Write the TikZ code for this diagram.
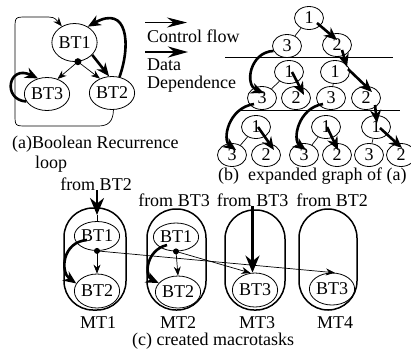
\documentclass[tikz,border=0pt]{standalone}
\usepackage{fontspec}
\setmainfont{Liberation Serif}
\usetikzlibrary{arrows.meta,shapes.geometric}
\begin{document}
\begin{tikzpicture}[x=1pt,y=-1pt,
  every node/.style={font=\fontsize{18}{20}\selectfont, inner sep=0pt},
  lbl/.style={anchor=base west},
  clbl/.style={anchor=base},
  bta/.style={draw, ellipse, line width=0.8pt, minimum width=42pt, minimum height=34pt},
  tnode/.style={draw, ellipse, line width=0.8pt, minimum width=29pt, minimum height=23pt},
  ctrl/.style={line width=0.7pt, -{Stealth[length=9pt,width=7pt]}},
  data/.style={line width=2.6pt, -{Stealth[length=13pt,width=11pt]}},
  datab/.style={line width=2.6pt, -{Stealth[length=17pt,width=14pt]}},
  thinln/.style={line width=0.7pt},
  capsule/.style={draw, line width=1.5pt, rounded corners=29pt}]
\useasboundingbox (0,0) rectangle (411,349);

% ---------- (a) Boolean recurrence loop ----------
\node[bta, minimum height=38pt] (a1) at (74.5,42.5) {BT1};
\node[bta, minimum height=33pt] (a3) at (47,94) {BT3};
\node[bta, minimum height=33pt] (a2) at (112,93) {BT2};
\coordinate (ad) at (a1.-80);
\fill (ad) circle (3.5);
\draw[ctrl] (ad) -- (a3.55);
\draw[ctrl] (ad) -- (a2.130);
\draw[data] (a1.-35) -- (a2.100);
\draw[data] (a2.65) .. controls (131,45) and (128,4) .. (a1.50);
\draw[data] (a3.200) .. controls (2,100) and (8,64) .. (a3.120);
% loop-back control edge around the three blocks
\draw[ctrl] (a2.-85) .. controls (113,122) and (108,126) .. (98,126)
  -- (27,126) .. controls (15,126) .. (15,114) -- (15,29)
  .. controls (15,17) .. (27,17) -- (42,17) .. controls (54,17) .. (a1.128);
\node[lbl] (capa) at (12,148) {(a)Boolean Recurrence};
\node[lbl] (capa2) at (35,168) {loop};

% ---------- legend ----------
\coordinate (lg1s) at (145,22.5);
\coordinate (lg1e) at (187,22.5);
\draw[line width=0.7pt, -{Stealth[length=20pt,width=10pt]}] (lg1s) -- (lg1e);
\node[lbl] (lgc) at (147,42) {Control flow};
\coordinate (lg2s) at (145,52);
\coordinate (lg2e) at (188,52);
\draw[line width=2.6pt, -{Stealth[length=20pt,width=11pt]}] (lg2s) -- (lg2e);
\node[lbl] (lgd) at (147,70) {Data};
\node[lbl] (lgd2) at (147,88) {Dependence};

% ---------- (b) expanded graph ----------
\node[tnode] (b0) at (309,18) {1};
\node[tnode] (b1a) at (287,46) {3};
\node[tnode] (b1b) at (337,45) {2};
\node[tnode] (b2a) at (289,72) {1};
\node[tnode] (b2b) at (335,72) {1};
\node[tnode] (b3a) at (262,98) {3};
\node[tnode] (b3b) at (296,98) {2};
\node[tnode] (b3c) at (331,98) {3};
\node[tnode] (b3d) at (366,98) {2};
\node[tnode] (b4a) at (256,127) {1};
\node[tnode] (b4b) at (326,127) {1};
\node[tnode] (b4c) at (376,127) {1};
\node[tnode] (b5a) at (232,155) {3};
\node[tnode] (b5b) at (266,155) {2};
\node[tnode] (b5c) at (304,155) {3};
\node[tnode] (b5d) at (337,155) {2};
\node[tnode] (b5e) at (369,155) {3};
\node[tnode] (b5f) at (401,155) {2};
% iteration separators
\coordinate (h1s) at (225,57); \coordinate (h1e) at (393,57);
\coordinate (h2s) at (240,110); \coordinate (h2e) at (400,110);
\draw[thinln] (h1s) -- (h1e);
\draw[thinln] (h2s) -- (h2e);
% control edges inside an iteration
\draw[thinln] (b0) -- (b1a);
\draw[thinln] (b2a) -- (b3a);
\draw[thinln] (b2b) -- (b3c);
\draw[thinln] (b4a) -- (b5a);
\draw[thinln] (b4b) -- (b5c);
\draw[thinln] (b4c) -- (b5e);
% data dependences
\draw[data] ([shift={(8,5)}]b0.center) -- ([shift={(0,-5)}]b1b.center);
\draw[data] ([shift={(5,5)}]b1b.center) -- ([shift={(12,-5)}]b2b.center);
\draw[data] ([shift={(13,-3)}]b2b.center) -- ([shift={(6,-6)}]b3d.center);
\draw[data] ([shift={(3,0)}]b2a.center) -- ([shift={(8,-3)}]b3b.center);
\draw[data] ([shift={(9,7)}]b3d.center) -- ([shift={(1,-4)}]b4c.center);
\draw[data] ([shift={(4,1)}]b4c.center) -- ([shift={(1,-7)}]b5f.center);
\draw[data] ([shift={(2,0)}]b4a.center) -- ([shift={(8,-5)}]b5b.center);
\draw[data] ([shift={(1,0)}]b4b.center) -- ([shift={(1,-5)}]b5d.center);
\draw[data] (b1a.200) .. controls (250,52) and (244,85) .. ([shift={(2,-5)}]b3a.center);
\draw[data] ([shift={(-8,6)}]b3a.center) .. controls (228,108) and (222,140) .. ([shift={(4,-5)}]b5a.center);
\draw[data] ([shift={(-8,6)}]b3c.center) .. controls (298,108) and (292,140) .. ([shift={(2,-5)}]b5c.center);
\node[lbl] (capb) at (218,180) {(b)\ \ expanded graph of (a)};

% ---------- (c) created macrotasks ----------
\node[capsule, minimum width=62pt, minimum height=102pt] (mt1) at (95,259) {};
\node[capsule, minimum width=59pt, minimum height=101pt] (mt2) at (176.5,259.5) {};
\node[capsule, minimum width=60pt, minimum height=100pt] (mt3) at (255,260) {};
\node[capsule, minimum width=58pt, minimum height=101pt] (mt4) at (328,259.5) {};

\node[bta, minimum height=29pt] (m1a) at (97,236) {BT1};
\node[bta, minimum height=34pt] (m1b) at (97,291) {BT2};
\node[bta, minimum height=28pt] (m2a) at (176,237) {BT1};
\node[bta, minimum height=32pt] (m2b) at (178,292) {BT2};
\node[bta, minimum height=34pt] (m3a) at (255,290) {BT3};
\node[bta, minimum height=32pt] (m4a) at (332,289) {BT3};

\node[clbl] (fa) at (96,190) {from BT2};
\node[clbl] (fb) at (174,206) {from BT3};
\node[clbl] (fc) at (252.5,206) {from BT3};
\node[clbl] (fd) at (332,206) {from BT2};

\coordinate (m1in) at (97,215);
\draw[datab] (fa.south -| m1in) -- (m1in);
\draw[thinln] (m1in) -- (m1a.north);
\draw[datab] (fc.south) -- (fc.south |- m3a.north);

\fill (m1a.south) circle (3);
\fill (m2a.south) circle (3);
\draw[ctrl] (m1a.south) -- (m1b.north);
\draw[ctrl] (m2a.south) -- (m2b.north);
\draw[ctrl] (m1a.south) -- (m4a.80);
\draw[ctrl] (m2a.south) -- (m3a.105);
\draw[data] ([shift={(-10,4)}]m1a.center) .. controls (62,242) and (60,272) .. (m1b.160);
\draw[data] ([shift={(-9,8)}]m2a.center) .. controls (146,250) and (144,276) .. (m2b.155);

\node[clbl] (lm1) at (98,328) {MT1};
\node[clbl] (lm2) at (178,328) {MT2};
\node[clbl] (lm3) at (257,328) {MT3};
\node[clbl] (lm4) at (335,328) {MT4};
\node[lbl] (capc) at (132,345) {(c) created macrotasks};
\end{tikzpicture}
\end{document}
